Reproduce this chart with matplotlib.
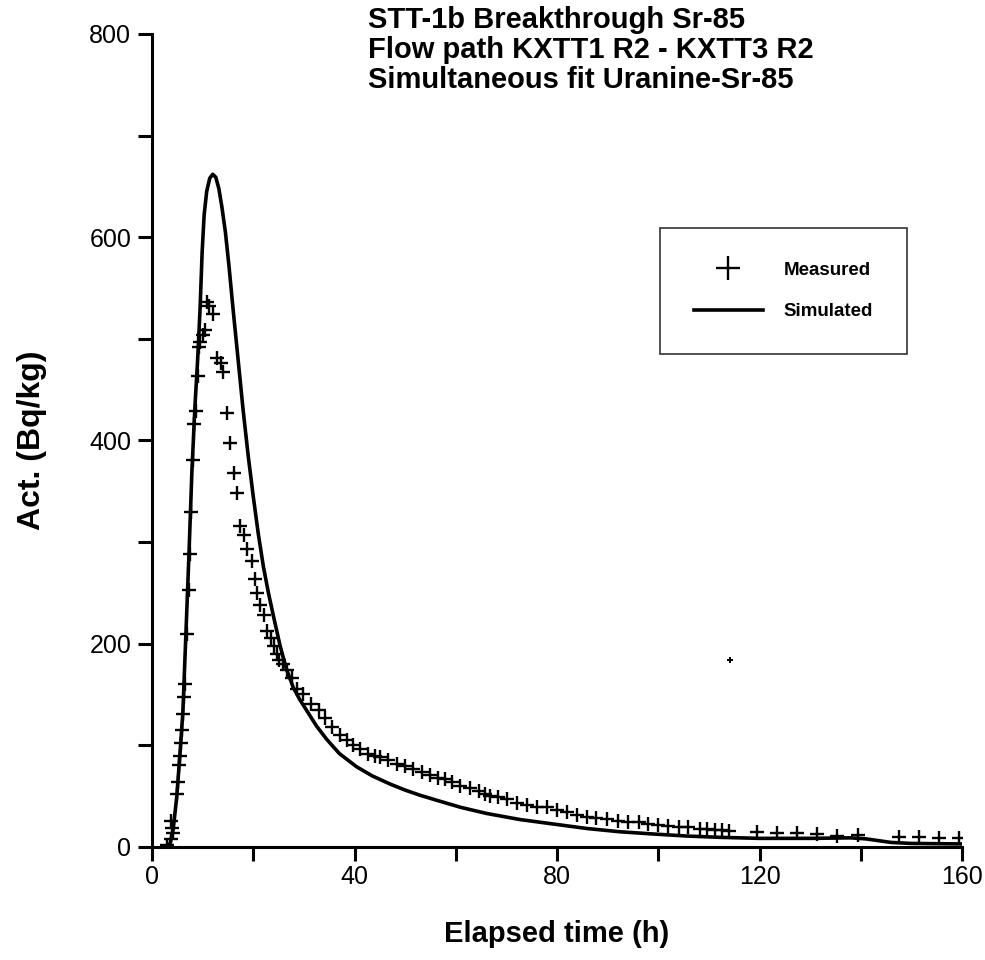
import matplotlib
matplotlib.use("Agg")
import matplotlib.pyplot as plt
from matplotlib import rcParams

rcParams.update({
    "font.family": ["Liberation Sans", "DejaVu Sans"],
    "axes.spines.top": False,
    "axes.spines.right": False,
})

# ---------------------------------------------------------------------------
# Data
# ---------------------------------------------------------------------------
meas_t = [2.9, 3.7, 3.7, 3.9, 4.1, 4.9, 5.1, 5.4, 5.6, 5.8, 6.0, 6.2, 6.3, 6.5,
          6.85, 7.3, 7.5, 7.8, 8.0, 8.3, 8.6, 9.0, 9.35, 9.5, 10.1, 10.5, 10.9,
          11.3, 12.1, 12.8, 13.6, 14.1, 14.8, 15.4, 16.1, 16.8, 17.3, 18.1,
          18.8, 19.7, 20.3, 20.8, 21.4, 22.2, 22.8, 23.6, 24.0, 24.6, 25.0,
          25.9, 26.6, 27.6, 28.6, 29.9, 31.5, 32.9, 34.2, 35.5, 37.1, 38.5,
          39.8, 41.1, 42.7, 44.0, 45.0, 46.7, 48.3, 50.0, 51.6, 53.3, 55.0,
          56.5, 57.8, 59.2, 60.8, 62.8, 64.5, 65.8, 66.8, 68.4, 70.1, 72.0,
          74.0, 76.0, 78.0, 80.0, 81.9, 83.9, 85.9, 87.8, 89.8, 92.1, 94.1,
          96.1, 98.0, 100.0, 102.0, 104.0, 105.9, 108.2, 109.7, 111.2, 112.5,
          114.0, 119.6, 123.5, 127.5, 131.4, 135.4, 139.5, 147.6, 151.6, 155.5,
          159.5]
meas_y = [2, 8, 26, 19, 13.5, 52, 64, 81, 90, 102, 115, 131, 148, 160,
          210, 253, 288, 330, 381, 416, 429, 463, 492, 497, 504, 509, 536,
          532, 524, 481, 476, 467, 427, 398, 368, 348, 316, 307,
          293, 281, 264, 250, 238, 228, 213, 206, 198, 190, 184,
          180, 174, 166, 155, 151, 141, 135, 127, 118, 110, 105,
          100, 96, 92, 90, 89, 86, 82, 80, 77, 74, 71,
          68, 67, 64, 60, 58, 55, 52.5, 50, 49, 47, 43.5,
          41, 39.5, 39, 36.5, 34, 31.5, 30, 29, 28, 26, 25,
          25, 22.6, 21.6, 20.7, 20, 19.2, 18.2, 18, 17, 16.7,
          16, 15, 14, 13.3, 12.8, 10.8, 11.8, 9.5, 9.5, 8.5,
          8.5]

sim_t = [3.0, 3.6, 4.2, 4.9, 5.5, 6.1, 6.7, 7.3, 7.9, 8.5, 9.0, 9.5, 9.9,
         10.3, 10.8, 11.4, 12.0, 12.6, 13.2, 13.8, 14.5, 15.2, 16.0, 17.0,
         18.0, 19.0, 20.0, 21.0, 22.0, 23.0, 24.0, 25.3, 26.5, 27.9, 29.2,
         30.6, 32.5, 34.5, 37.0, 40.4, 43.5, 47.0, 50.0, 52.9, 56.9, 61.0,
         66.1, 72.7, 79.3, 85.9, 92.4, 99.0, 105.6, 112.2, 120.0, 130.0,
         138.0, 141.0, 146.0, 150.0, 160.0]
sim_y = [0, 4, 18, 50, 90, 133, 210, 288, 372, 435, 478, 530, 585,
         622, 645, 658, 662, 659, 648, 630, 605, 572, 530, 480,
         430, 385, 345, 308, 276, 250, 227, 198, 176, 157, 145,
         134, 119, 106, 92, 79, 70, 62, 56, 51, 45, 39,
         33, 27, 22.6, 18.2, 15, 12.8, 10.8, 9.5, 8.5, 8.5,
         9, 8, 4.5, 3.5, 3]

stray_t = [114.2]
stray_y = [184]

title_lines = ["STT-1b Breakthrough Sr-85",
               "Flow path KXTT1 R2 - KXTT3 R2",
               "Simultaneous fit Uranine-Sr-85"]

x_ticks = list(range(0, 161, 20))
y_ticks = list(range(0, 801, 100))

# ---------------------------------------------------------------------------
# Figure
# ---------------------------------------------------------------------------
fig = plt.figure(figsize=(9.85, 9.60), dpi=100)
ax = fig.add_axes([152 / 985, 1 - 847 / 960, 810 / 985, 813 / 960])

ax.plot(sim_t, sim_y, color="black", lw=2.6, solid_joinstyle="round",
        label="Simulated", zorder=2)
ax.plot(meas_t, meas_y, ls="none", marker="+", ms=9.5, mew=1.7,
        color="black", label="Measured", zorder=3)
ax.plot(stray_t, stray_y, ls="none", marker="+", ms=5, mew=1.4,
        color="black", zorder=3)

ax.set_xlim(0, 160)
ax.set_ylim(0, 800)
ax.set_xticks(x_ticks)
ax.set_xticklabels([str(v) if v % 40 == 0 else "" for v in x_ticks])
ax.set_yticks(y_ticks)
ax.set_yticklabels([str(v) if v % 200 == 0 else "" for v in y_ticks])

for s in ("left", "bottom"):
    ax.spines[s].set_linewidth(2.2)
ax.tick_params(direction="out", length=10, width=2.2, labelsize=18, pad=5)
ax.tick_params(axis="x", pad=3)

ax.set_xlabel("Elapsed time (h)", fontsize=21, fontweight="bold", labelpad=22)
ax.set_ylabel("Act. (Bq/kg)", fontsize=23, fontweight="bold", labelpad=30)

fig.text(368 / 985, 1 - 6 / 960, "\n".join(title_lines), ha="left", va="top",
         fontsize=21, fontweight="bold", linespacing=1.1)

handles, labels = ax.get_legend_handles_labels()
leg = ax.legend([handles[1], handles[0]], [labels[1], labels[0]],
                loc="upper left",
                bbox_to_anchor=(660 / 985, 1 - 228 / 960),
                bbox_transform=fig.transFigure,
                frameon=True, fancybox=False, edgecolor="black",
                prop={"size": 13.5, "weight": "bold"},
                borderpad=1.8, labelspacing=1.3, handlelength=3.7,
                handletextpad=1.1, markerscale=1.8, borderaxespad=0)
leg.get_frame().set_linewidth(1.2)

fig.savefig("out.png", dpi=100)
